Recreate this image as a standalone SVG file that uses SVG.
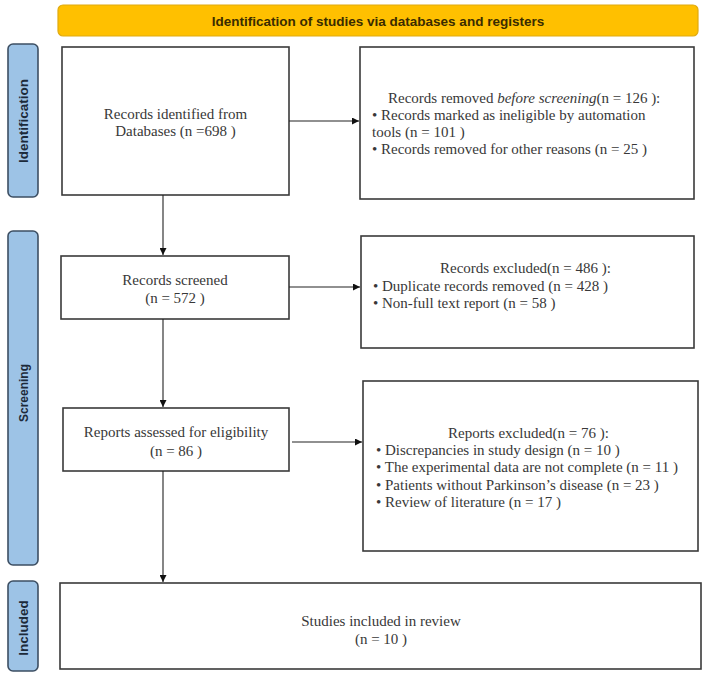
<svg xmlns="http://www.w3.org/2000/svg" width="706" height="675" viewBox="0 0 706 675">
<defs>
<marker id="arr" viewBox="0 0 10 10" refX="10" refY="5" markerWidth="7" markerHeight="7" markerUnits="userSpaceOnUse" orient="auto">
<path d="M0,0 L10,5 L0,10 z" fill="#111"/>
</marker>
<style>
.box{fill:#fff;stroke:#3a3a3a;stroke-width:1.6}
.side{fill:#9dc3e6;stroke:#3d4f63;stroke-width:1.6}
.stxt{font-family:"Liberation Sans",Arial,sans-serif;font-weight:bold;fill:#1c2a3a;text-anchor:middle}
.t{font-family:"Liberation Serif","Times New Roman",serif;font-size:15px;fill:#383838}
.tr{font-family:"Liberation Serif","Times New Roman",serif;font-size:15px;fill:#383838}
.c{text-anchor:middle}
.conn{stroke:#222;stroke-width:1.1;fill:none}
</style>
</defs>
<rect width="706" height="675" fill="#fff"/>
<g id="header">
<rect x="58" y="5" width="640" height="31" rx="5" fill="#ffc000" stroke="#e0aa10" stroke-width="1.2"/>
<text x="378" y="25.5" font-family="'Liberation Sans',Arial,sans-serif" font-weight="bold" font-size="13.5" fill="#3a2c00" text-anchor="middle">Identification of studies via databases and registers</text>
</g>
<g id="side-identification">
<rect class="side" x="8" y="44" width="30" height="153" rx="5"/>
<text class="stxt" font-size="13.5" transform="translate(28,121) rotate(-90)">Identification</text>
</g>
<g id="side-screening">
<rect class="side" x="8" y="231" width="30" height="334" rx="5"/>
<text class="stxt" font-size="12" transform="translate(27.5,393) rotate(-90)">Screening</text>
</g>
<g id="side-included">
<rect class="side" x="8" y="581" width="30" height="90" rx="5"/>
<text class="stxt" font-size="13.5" transform="translate(28,628) rotate(-90)">Included</text>
</g>
<g id="n-identified">
<rect class="box" x="62" y="47" width="227" height="148"/>
<text class="t c" x="175.5" y="119">Records identified from</text>
<text class="t c" x="175.5" y="136">Databases (n =698 )</text>
</g>
<g id="n-removed">
<rect class="box" x="360" y="47" width="334" height="152"/>
<text class="tr" x="388" y="103">Records removed <tspan font-style="italic">before screening</tspan>(n = 126 ):</text>
<text class="tr" x="372" y="120">• Records marked as ineligible by automation</text>
<text class="tr" x="372" y="137">tools (n = 101 )</text>
<text class="tr" x="372" y="154">• Records removed for other reasons (n = 25 )</text>
</g>
<g id="n-screened">
<rect class="box" x="61" y="256" width="228" height="63"/>
<text class="t c" x="175" y="285">Records screened</text>
<text class="t c" x="175" y="303">(n = 572 )</text>
</g>
<g id="n-excluded">
<rect class="box" x="361" y="236" width="333" height="112"/>
<text class="tr" x="440" y="273">Records excluded(n = 486 ):</text>
<text class="tr" x="373" y="291">• Duplicate records removed  (n = 428 )</text>
<text class="tr" x="373" y="308">• Non-full text report (n = 58 )</text>
</g>
<g id="n-assessed">
<rect class="box" x="63" y="408" width="226" height="63"/>
<text class="t c" x="176" y="437">Reports assessed for eligibility</text>
<text class="t c" x="176" y="456">(n = 86 )</text>
</g>
<g id="n-reports-excluded">
<rect class="box" x="363" y="381" width="335" height="170"/>
<text class="tr" x="448" y="438">Reports excluded(n = 76 ):</text>
<text class="tr" x="376" y="455">• Discrepancies in study design (n = 10 )</text>
<text class="tr" x="376" y="472">• The experimental data are not complete (n = 11 )</text>
<text class="tr" x="376" y="490">• Patients without Parkinson’s disease (n = 23 )</text>
<text class="tr" x="376" y="507">• Review of literature (n = 17 )</text>
</g>
<g id="n-included">
<rect class="box" x="60" y="583" width="641" height="86"/>
<text class="t c" x="381" y="626">Studies included in review</text>
<text class="t c" x="381" y="644">(n = 10 )</text>
</g>
<g id="connectors">
<line class="conn" x1="289" y1="121" x2="359" y2="121" marker-end="url(#arr)"/>
<line class="conn" x1="163" y1="195" x2="163" y2="255" marker-end="url(#arr)"/>
<line class="conn" x1="289" y1="287" x2="360" y2="287" marker-end="url(#arr)"/>
<line class="conn" x1="163" y1="319" x2="163" y2="407" marker-end="url(#arr)"/>
<line class="conn" x1="292" y1="442" x2="362" y2="442" marker-end="url(#arr)"/>
<line class="conn" x1="163" y1="471" x2="163" y2="582" marker-end="url(#arr)"/>
</g>
</svg>
